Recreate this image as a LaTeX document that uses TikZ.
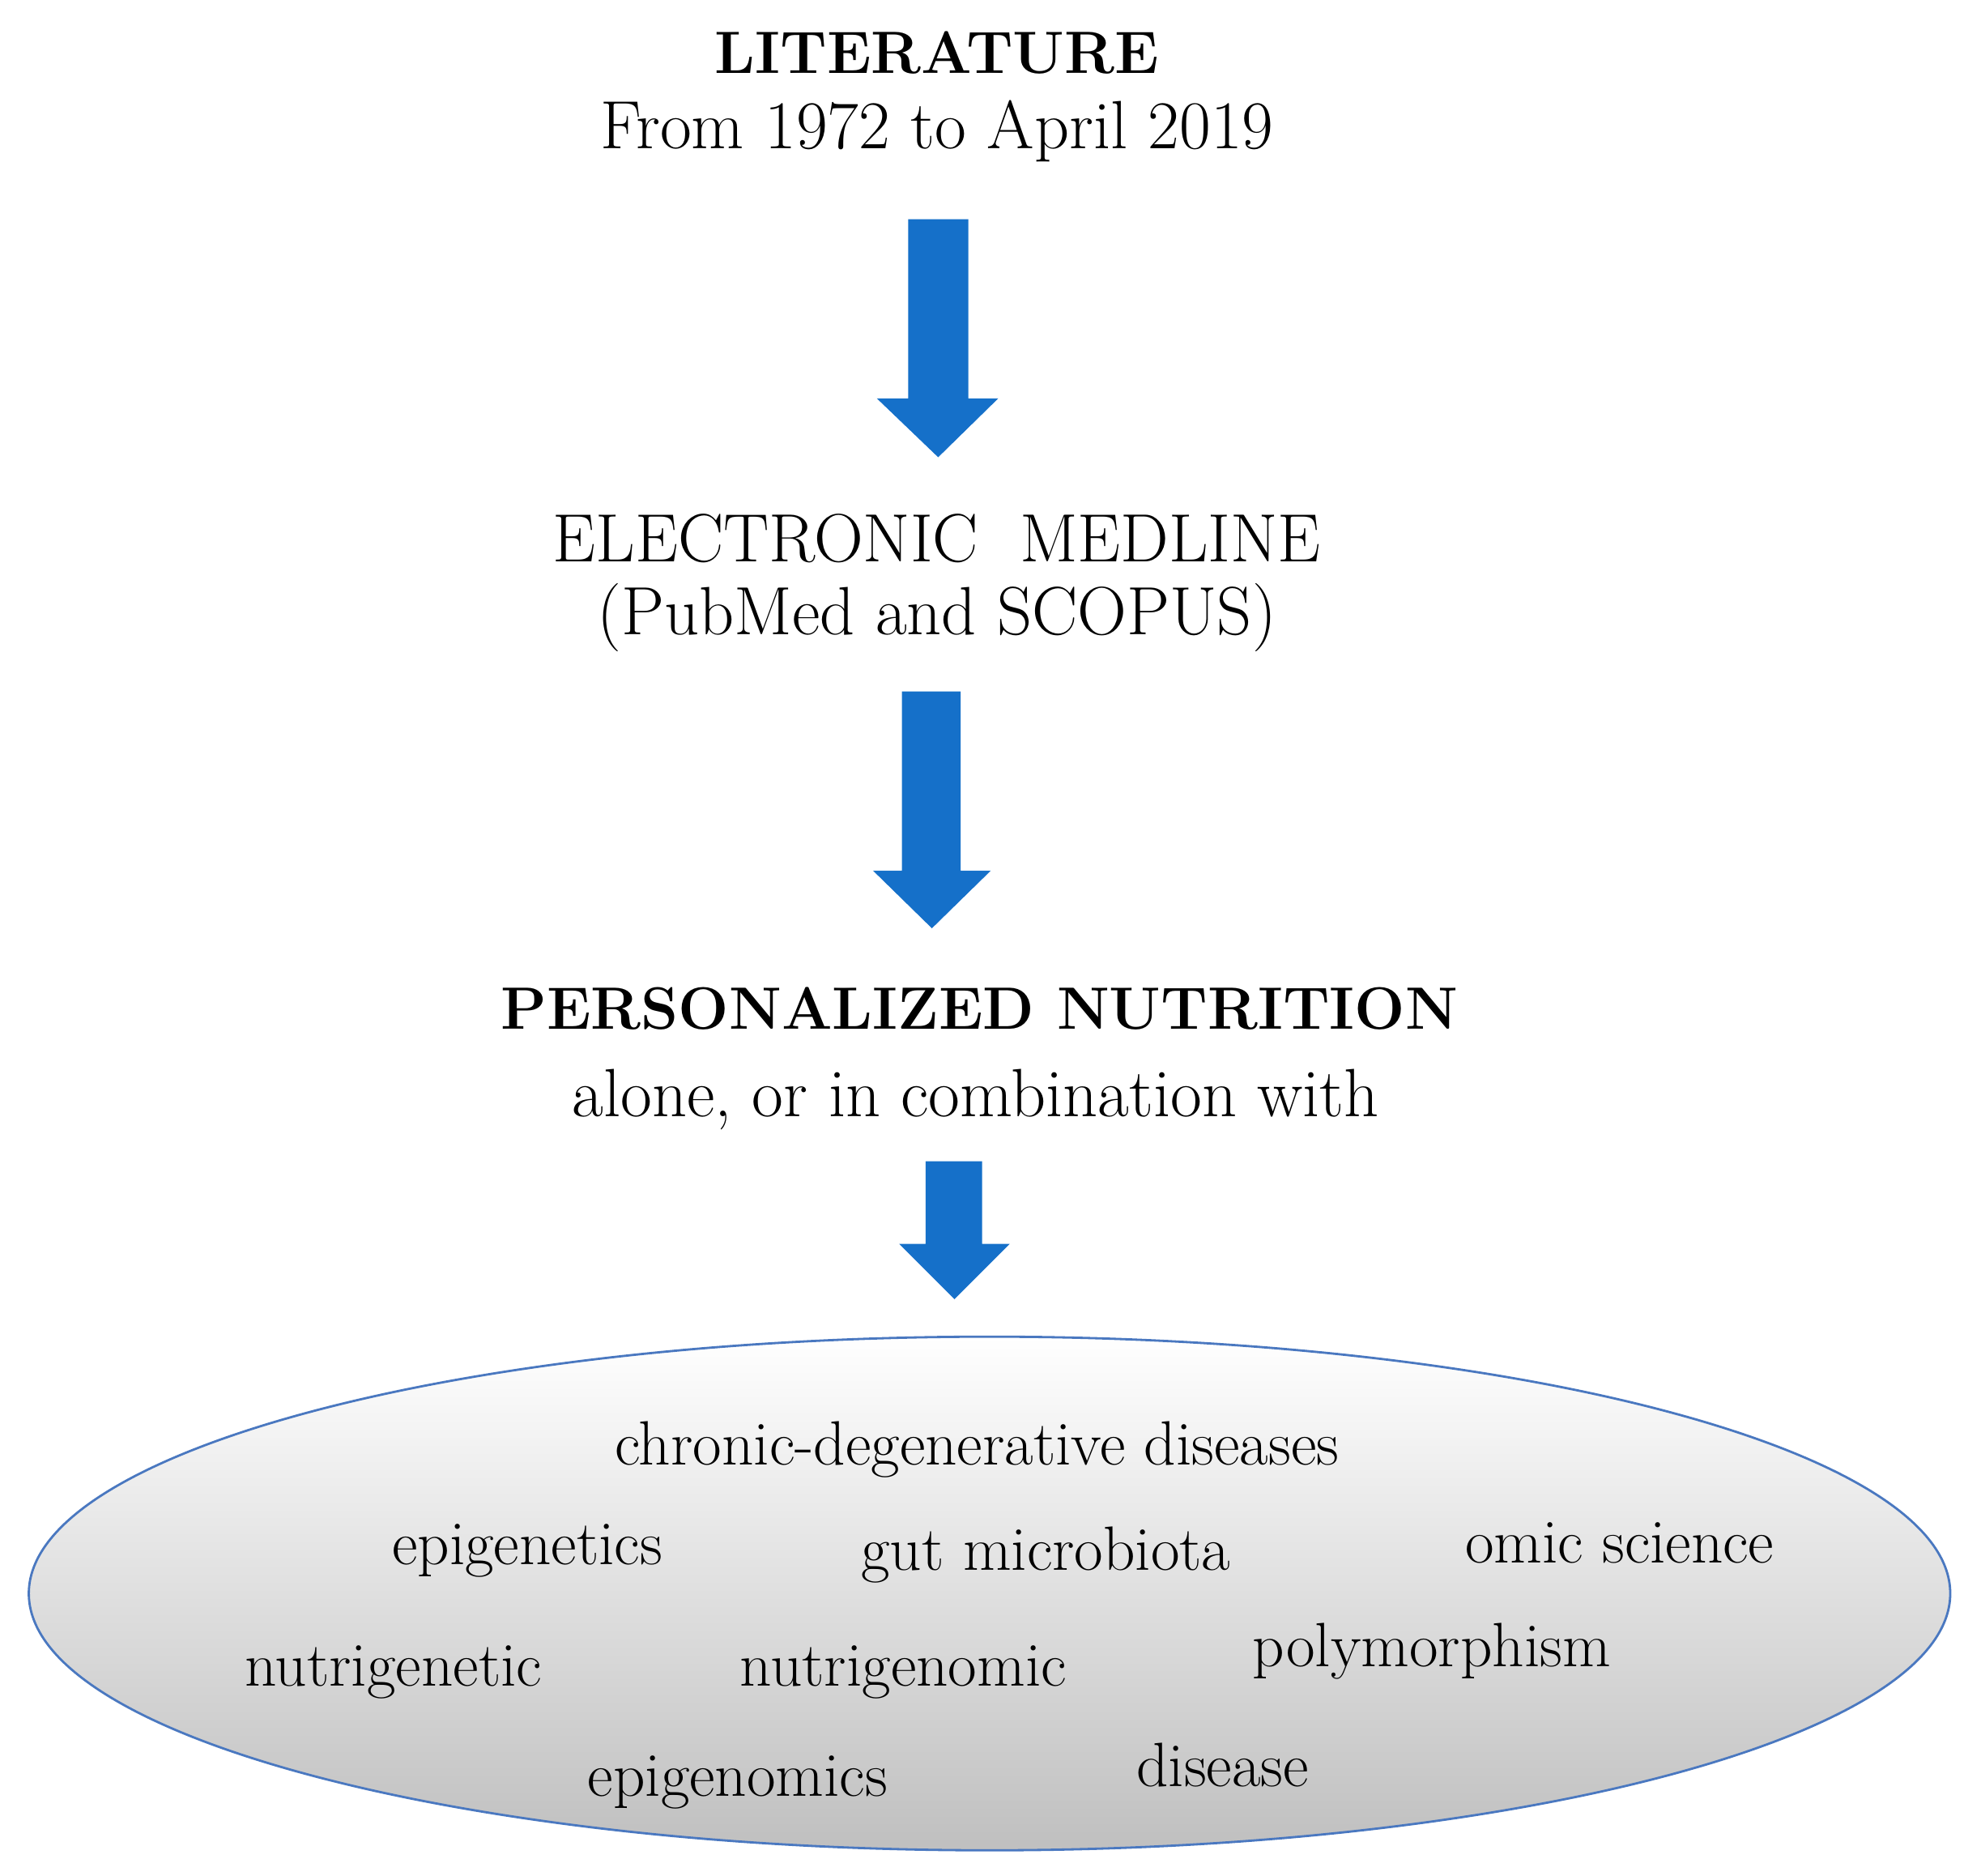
\documentclass[tikz,border=0pt]{standalone}
\usetikzlibrary{shapes.geometric}
\definecolor{arrblue}{HTML}{1570C9}
\definecolor{ellblue}{HTML}{4A78C0}
\tikzset{
  bigtxt/.style={font=\fontsize{24}{30}\selectfont, align=center, inner sep=0},
  boldtxt/.style={font=\fontsize{21}{26}\selectfont\bfseries, align=center, inner sep=0},
  word/.style={font=\fontsize{22}{26}\selectfont, inner sep=0},
  bluearrow/.style={fill=arrblue, draw=none}
}
\begin{document}
\begin{tikzpicture}[x=0.01547cm,y=-0.01547cm]
\useasboundingbox (0,0) rectangle (1568,1497);
\node[boldtxt] (lit) at (748,42) {LITERATURE};
\node[bigtxt] (from) at (748,105) {From 1972 to April 2019};
\fill[bluearrow] (725,175) -- (773,175) -- (773,318) -- (797,318) -- (749,365) -- (700,318) -- (725,318) -- cycle;
\node[bigtxt] (med1) at (748,430) {ELECTRONIC\ \ MEDLINE};
\node[bigtxt] (med2) at (748,493) {(PubMed and SCOPUS)};
\fill[bluearrow] (720,552) -- (767,552) -- (767,695) -- (791,695) -- (744,741) -- (697,695) -- (720,695) -- cycle;
\node[boldtxt] (pn) at (782,805) {PERSONALIZED NUTRITION};
\node[bigtxt] (alone) at (779,878) {alone, or in combination with};
\fill[bluearrow] (739,927) -- (784,927) -- (784,993) -- (806,993) -- (762,1037) -- (718,993) -- (739,993) -- cycle;
\shade[top color=white, bottom color=black!25] (790,1272) ellipse [x radius=767, y radius=205];
\draw[ellblue, line width=0.8pt] (790,1272) ellipse [x radius=767, y radius=205];
\node[word] (w1) at (780,1157) {chronic-degenerative diseases};
\node[word] (w2) at (421,1238) {epigenetics};
\node[word] (w3) at (835,1241) {gut microbiota};
\node[word] (w4) at (1293,1232) {omic science};
\node[word] (w5) at (314,1335) {nutrigenetic};
\node[word] (w6) at (721,1335) {nutrigenomic};
\node[word] (w7) at (1143,1318) {polymorphism};
\node[word] (w8) at (589,1423) {epigenomics};
\node[word] (w9) at (976,1409) {disease};
\end{tikzpicture}
\end{document}
